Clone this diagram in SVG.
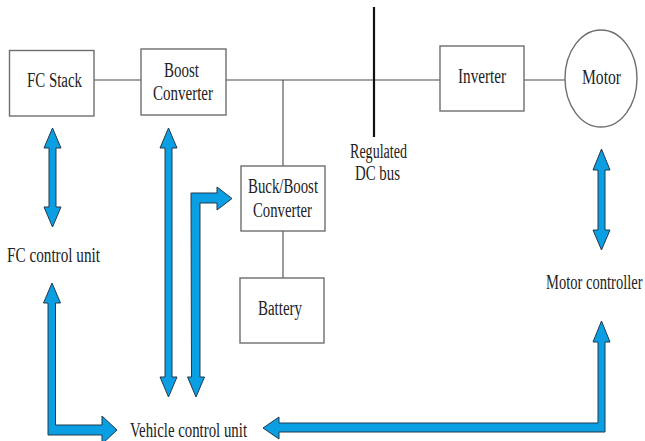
<svg xmlns="http://www.w3.org/2000/svg" width="645" height="441" viewBox="0 0 645 441">
<style>
.box{fill:#fff;stroke:#6e6e6e;stroke-width:1.4}
.ln{stroke:#4a4a4a;stroke-width:1.1;fill:none}
.bus{stroke:#111;stroke-width:2.2}
.arr{fill:#0a9fe3;stroke:#22384c;stroke-width:1;stroke-linejoin:miter}
text{font-family:"Liberation Serif","Times New Roman",serif;font-size:20px;fill:#222}
</style>
<rect width="645" height="441" fill="#fff"/>
<g id="connectors">
<line class="ln" x1="94" y1="80" x2="141" y2="80"/>
<line class="ln" x1="226" y1="80" x2="440" y2="80"/>
<line class="ln" x1="524" y1="80" x2="565" y2="80"/>
<line class="ln" x1="283" y1="80" x2="283" y2="166"/>
<line class="ln" x1="283" y1="231" x2="283" y2="278"/>
<polygon class="arr" points="52.5,128 61,148 56,148 56,207 61,207 52.5,227 44,207 49,207 49,148 44,148"/>
<polygon class="arr" points="168.5,128 177,148 172,148 172,377 177,377 168.5,397 160,377 165,377 165,148 160,148"/>
<polygon class="arr" points="191,193 217,193 217,187 232,198.5 217,210 217,203 200,203 200,377 204.5,377 196,397 187.5,377 191.5,377"/>
<polygon class="arr" points="52,283 60.5,303 55.5,303 55.5,425 102,425 102,416 117,430 102,444 102,435 48,435 48,303 43.5,303"/>
<polygon class="arr" points="263,428 279,417 279,423 598,423 598,342 593,342 601.5,321 610,342 605,342 605,432 279,432 279,439"/>
<polygon class="arr" points="601.5,149 610,170 605,170 605,230 610,230 601.5,250 593,230 598,230 598,170 593,170"/>
</g>
<g id="bus">
<line class="bus" x1="374" y1="7" x2="374" y2="137"/>
<text x="350" y="158" textLength="57" lengthAdjust="spacingAndGlyphs">Regulated</text>
<text x="355" y="180" textLength="45" lengthAdjust="spacingAndGlyphs">DC bus</text>
</g>
<g id="fc-stack">
<rect class="box" x="9.5" y="50.5" width="84.5" height="65.5"/>
<text x="27" y="87" textLength="55" lengthAdjust="spacingAndGlyphs">FC Stack</text>
</g>
<g id="boost-converter">
<rect class="box" x="141" y="49" width="85" height="66"/>
<text x="164" y="77" textLength="35" lengthAdjust="spacingAndGlyphs">Boost</text>
<text x="153" y="100" textLength="60" lengthAdjust="spacingAndGlyphs">Converter</text>
</g>
<g id="buck-boost-converter">
<rect class="box" x="241" y="166" width="84" height="65"/>
<text x="248" y="193" textLength="70" lengthAdjust="spacingAndGlyphs">Buck/Boost</text>
<text x="253" y="217" textLength="59" lengthAdjust="spacingAndGlyphs">Converter</text>
</g>
<g id="battery">
<rect class="box" x="240" y="278" width="84" height="65"/>
<text x="258" y="315" textLength="44" lengthAdjust="spacingAndGlyphs">Battery</text>
</g>
<g id="inverter">
<rect class="box" x="440" y="46" width="84" height="65"/>
<text x="458" y="83" textLength="48" lengthAdjust="spacingAndGlyphs">Inverter</text>
</g>
<g id="motor">
<ellipse class="box" cx="601" cy="78.5" rx="36" ry="48.5" stroke-width="1.1"/>
<text x="582" y="84" textLength="39" lengthAdjust="spacingAndGlyphs">Motor</text>
</g>
<g id="fc-control-unit">
<text x="7" y="262" textLength="93" lengthAdjust="spacingAndGlyphs">FC control unit</text>
</g>
<g id="vehicle-control-unit">
<text x="130" y="437" textLength="117" lengthAdjust="spacingAndGlyphs">Vehicle control unit</text>
</g>
<g id="motor-controller">
<text transform="translate(546,289) scale(0.97,1.33)" style="font-size:15px">Motor controller</text>
</g>
</svg>
